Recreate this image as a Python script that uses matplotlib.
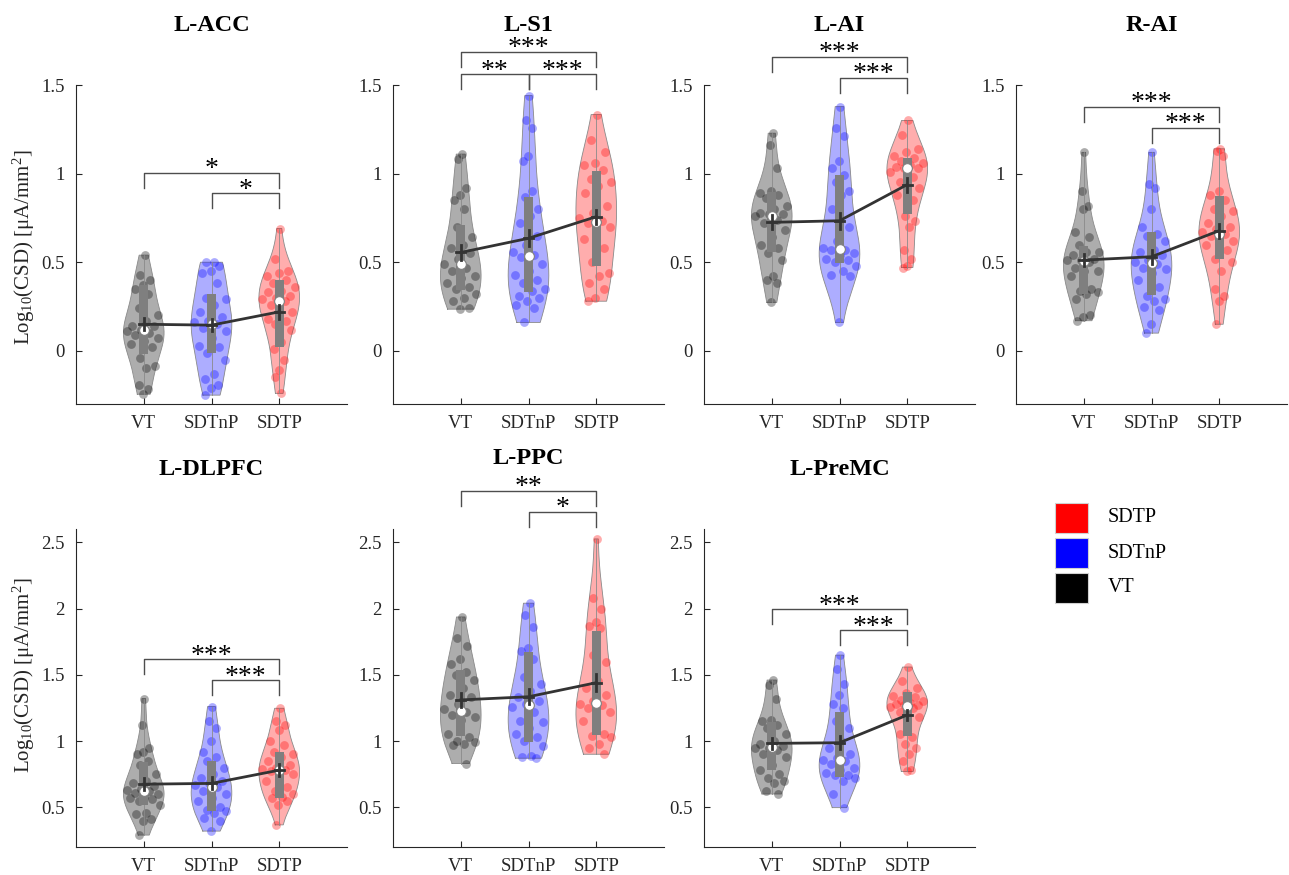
import numpy as np
import matplotlib.pyplot as plt
from matplotlib.patches import Rectangle

plt.rcParams['font.family'] = 'Liberation Serif'
plt.rcParams['mathtext.fontset'] = 'custom'
plt.rcParams['mathtext.rm'] = 'Liberation Serif'
plt.rcParams['mathtext.it'] = 'Liberation Serif:italic'

groups = ["VT", "SDTnP", "SDTP"]
colors = ["black", "blue", "red"]

# ---- individual subject values (log10 CSD) ----
lacc_vt = [0.54, 0.43, 0.40, 0.37, 0.35, 0.32, 0.24, 0.20, 0.17, 0.14, 0.14, 0.12, 0.11,
           0.10, 0.09, 0.075, 0.056, 0.04, 0.02, -0.04, -0.085, -0.095, -0.19, -0.215, -0.245]
lacc_sdtnp = [0.50, 0.50, 0.48, 0.45, 0.44, 0.38, 0.30, 0.29, 0.26, 0.22, 0.19, 0.17, 0.16,
              0.15, 0.13, 0.11, 0.07, 0.03, 0.02, -0.01, -0.05, -0.13, -0.16, -0.19, -0.21, -0.25]
lacc_sdtp = [0.69, 0.52, 0.45, 0.44, 0.42, 0.40, 0.38, 0.36, 0.34, 0.33, 0.31, 0.30, 0.29,
             0.28, 0.26, 0.22, 0.20, 0.18, 0.17, 0.15, 0.12, 0.05, 0.01, -0.05, -0.11, -0.15, -0.24]

ls1_vt = [1.11, 1.08, 0.92, 0.88, 0.85, 0.80, 0.70, 0.64, 0.60, 0.58, 0.55, 0.52, 0.49,
          0.47, 0.45, 0.42, 0.41, 0.38, 0.36, 0.35, 0.32, 0.30, 0.28, 0.24, 0.235]
ls1_sdtnp = [1.44, 1.30, 1.26, 1.10, 1.07, 0.90, 0.87, 0.80, 0.76, 0.72, 0.65, 0.60, 0.56, 0.54,
             0.53, 0.49, 0.45, 0.43, 0.40, 0.38, 0.35, 0.34, 0.31, 0.30, 0.28, 0.26, 0.24, 0.16]
ls1_sdtp = [1.333, 1.19, 1.12, 1.06, 1.05, 1.02, 0.97, 0.95, 0.93, 0.89, 0.82, 0.78, 0.75,
            0.73, 0.72, 0.70, 0.65, 0.63, 0.58, 0.50, 0.44, 0.42, 0.38, 0.35, 0.30, 0.28]

lai_vt = [1.228, 1.16, 1.03, 0.90, 0.89, 0.88, 0.86, 0.82, 0.80, 0.78, 0.77, 0.77, 0.76,
          0.74, 0.72, 0.68, 0.64, 0.60, 0.58, 0.55, 0.51, 0.42, 0.40, 0.38, 0.273]
lai_sdtnp = [1.378, 1.26, 1.21, 1.07, 1.03, 0.99, 0.95, 0.90, 0.88, 0.80, 0.70, 0.62, 0.58,
             0.57, 0.57, 0.55, 0.54, 0.52, 0.51, 0.50, 0.48, 0.45, 0.43, 0.42, 0.16]
lai_sdtp = [1.30, 1.22, 1.14, 1.12, 1.10, 1.09, 1.07, 1.06, 1.05, 1.04, 1.03, 1.03, 1.01,
            0.98, 0.95, 0.92, 0.90, 0.88, 0.85, 0.76, 0.73, 0.70, 0.57, 0.52, 0.48, 0.47]

rai_vt = [1.12, 0.90, 0.82, 0.80, 0.67, 0.64, 0.60, 0.56, 0.56, 0.54, 0.52, 0.51, 0.51,
          0.50, 0.47, 0.45, 0.45, 0.42, 0.35, 0.34, 0.33, 0.32, 0.29, 0.20, 0.19, 0.17]
rai_sdtnp = [1.12, 0.94, 0.92, 0.80, 0.70, 0.66, 0.65, 0.62, 0.57, 0.56, 0.54, 0.51, 0.50,
             0.49, 0.47, 0.46, 0.44, 0.40, 0.36, 0.31, 0.29, 0.28, 0.25, 0.23, 0.15, 0.10]
rai_sdtp = [1.14, 1.13, 1.10, 0.90, 0.88, 0.85, 0.80, 0.79, 0.76, 0.72, 0.70, 0.69, 0.67,
            0.66, 0.65, 0.62, 0.62, 0.60, 0.57, 0.52, 0.50, 0.45, 0.35, 0.31, 0.28, 0.15]

dlpfc_vt = [1.32, 1.12, 0.95, 0.92, 0.90, 0.85, 0.82, 0.75, 0.70, 0.68, 0.66, 0.64, 0.63,
            0.62, 0.61, 0.60, 0.58, 0.57, 0.56, 0.55, 0.52, 0.46, 0.45, 0.41, 0.40, 0.29]
dlpfc_sdtnp = [1.26, 1.15, 1.10, 1.00, 0.92, 0.88, 0.85, 0.80, 0.75, 0.72, 0.70, 0.68, 0.67,
               0.65, 0.62, 0.60, 0.57, 0.55, 0.50, 0.48, 0.47, 0.46, 0.42, 0.40, 0.32]
dlpfc_sdtp = [1.247, 1.15, 1.12, 1.08, 1.00, 0.97, 0.92, 0.90, 0.88, 0.85, 0.82, 0.80, 0.79,
              0.78, 0.77, 0.75, 0.72, 0.70, 0.65, 0.62, 0.60, 0.58, 0.57, 0.55, 0.52, 0.367]

ppc_vt = [1.936, 1.78, 1.72, 1.62, 1.58, 1.52, 1.50, 1.46, 1.40, 1.35, 1.33, 1.28,
          1.24, 1.22, 1.20, 1.18, 1.16, 1.05, 1.03, 1.00, 0.99, 0.98, 0.97, 0.83]
ppc_sdtnp = [2.04, 1.95, 1.86, 1.70, 1.68, 1.62, 1.48, 1.43, 1.38, 1.33, 1.30, 1.28,
             1.26, 1.22, 1.15, 1.14, 1.10, 1.05, 1.03, 1.00, 0.96, 0.89, 0.88, 0.87]
ppc_sdtp = [2.525, 2.08, 2.00, 1.90, 1.87, 1.85, 1.65, 1.60, 1.45, 1.40, 1.35, 1.30,
            1.28, 1.27, 1.25, 1.22, 1.18, 1.15, 1.05, 1.04, 1.03, 0.98, 0.95, 0.90]

premc_vt = [1.46, 1.42, 1.32, 1.16, 1.15, 1.12, 1.10, 1.05, 1.00, 0.98, 0.96, 0.95,
            0.95, 0.93, 0.90, 0.88, 0.82, 0.78, 0.75, 0.72, 0.70, 0.68, 0.62, 0.60]
premc_sdtnp = [1.648, 1.54, 1.43, 1.35, 1.28, 1.25, 1.15, 1.10, 1.00, 0.95, 0.90, 0.87,
               0.86, 0.85, 0.83, 0.80, 0.78, 0.76, 0.74, 0.74, 0.72, 0.70, 0.60, 0.497]
premc_sdtp = [1.558, 1.45, 1.40, 1.36, 1.34, 1.33, 1.31, 1.30, 1.29, 1.28, 1.27, 1.27, 1.26,
              1.25, 1.22, 1.18, 1.12, 1.05, 1.03, 0.98, 0.95, 0.90, 0.85, 0.78, 0.77]

# ---- box (q1, median, q3), mean and sem per group, as drawn ----
lacc_box = [(-0.02, 0.12, 0.37), (-0.01, 0.15, 0.32), (0.02, 0.28, 0.40)]
lacc_mean = [0.15, 0.145, 0.22]
lacc_sem = [0.035, 0.035, 0.04]
ls1_box = [(0.343, 0.49, 0.71), (0.33, 0.537, 0.866), (0.48, 0.725, 1.017)]
ls1_mean = [0.555, 0.635, 0.757]
ls1_sem = [0.04, 0.045, 0.04]
lai_box = [(0.556, 0.763, 0.898), (0.493, 0.574, 0.992), (0.772, 1.032, 1.089)]
lai_mean = [0.725, 0.734, 0.938]
lai_sem = [0.04, 0.045, 0.04]
rai_box = [(0.32, 0.508, 0.593), (0.316, 0.495, 0.668), (0.52, 0.66, 0.876)]
rai_mean = [0.512, 0.531, 0.678]
rai_sem = [0.035, 0.04, 0.04]
dlpfc_box = [(0.518, 0.623, 0.84), (0.472, 0.656, 0.85), (0.573, 0.78, 0.92)]
dlpfc_mean = [0.674, 0.68, 0.78]
dlpfc_sem = [0.045, 0.045, 0.045]
ppc_box = [(1.04, 1.226, 1.534), (0.995, 1.27, 1.67), (1.045, 1.284, 1.83)]
ppc_mean = [1.31, 1.334, 1.44]
ppc_sem = [0.05, 0.055, 0.065]
premc_box = [(0.78, 0.957, 1.14), (0.73, 0.857, 1.22), (1.04, 1.266, 1.367)]
premc_mean = [0.982, 0.987, 1.196]
premc_sem = [0.04, 0.05, 0.04]

# significance brackets: (group a, group b, height, stars)
lacc_sig = [(0, 2, 1.006, "*"), (1, 2, 0.89, "*")]
ls1_sig = [(0, 2, 1.687, "***"), (0, 1, 1.56, "**"), (1, 2, 1.56, "***")]
lai_sig = [(0, 2, 1.66, "***"), (1, 2, 1.54, "***")]
rai_sig = [(0, 2, 1.376, "***"), (1, 2, 1.26, "***")]
dlpfc_sig = [(0, 2, 1.616, "***"), (1, 2, 1.458, "***")]
ppc_sig = [(0, 2, 2.89, "**"), (1, 2, 2.73, "*")]
premc_sig = [(0, 2, 1.993, "***"), (1, 2, 1.835, "***")]

panels = [
    ("L-ACC", [lacc_vt, lacc_sdtnp, lacc_sdtp], lacc_box, lacc_mean, lacc_sem, lacc_sig, 0, 0),
    ("L-S1", [ls1_vt, ls1_sdtnp, ls1_sdtp], ls1_box, ls1_mean, ls1_sem, ls1_sig, 0, 1),
    ("L-AI", [lai_vt, lai_sdtnp, lai_sdtp], lai_box, lai_mean, lai_sem, lai_sig, 0, 2),
    ("R-AI", [rai_vt, rai_sdtnp, rai_sdtp], rai_box, rai_mean, rai_sem, rai_sig, 0, 3),
    ("L-DLPFC", [dlpfc_vt, dlpfc_sdtnp, dlpfc_sdtp], dlpfc_box, dlpfc_mean, dlpfc_sem, dlpfc_sig, 1, 0),
    ("L-PPC", [ppc_vt, ppc_sdtnp, ppc_sdtp], ppc_box, ppc_mean, ppc_sem, ppc_sig, 1, 1),
    ("L-PreMC", [premc_vt, premc_sdtnp, premc_sdtp], premc_box, premc_mean, premc_sem, premc_sig, 1, 2),
]

row_ylim = [(-0.3, 1.5), (0.2, 2.6)]
row_ticks = [[0, 0.5, 1, 1.5], [0.5, 1, 1.5, 2, 2.5]]
row_top_bottom = [(85, 404), (529, 847)]
col_left = [76, 393, 704, 1016]
ax_w = 271
W, H = 1289, 875
axis_col = "#262626"


def kde(vals, pts):
    v = np.asarray(vals)
    bw = 1.06 * v.std(ddof=1) * len(v) ** -0.2
    return np.exp(-0.5 * ((np.asarray(pts)[:, None] - v[None, :]) / bw) ** 2).sum(axis=1)


fig = plt.figure(figsize=(W / 100, H / 100), dpi=100)

for name, data, box, means, sems, sig, row, col in panels:
    top, bot = row_top_bottom[row]
    ax = fig.add_axes([col_left[col] / W, 1 - bot / H, ax_w / W, (bot - top) / H])
    ylo, yhi = row_ylim[row]

    for i, vals in enumerate(data):
        pos = i + 1
        c = colors[i]
        grid = np.linspace(min(vals), max(vals), 200)
        d = kde(vals, grid)
        dmax = d.max()
        half = d / dmax * 0.3
        ax.fill(np.r_[pos - half, (pos + half)[::-1]], np.r_[grid, grid[::-1]],
                facecolor=c, alpha=0.32, edgecolor="none", zorder=1)
        ax.plot(np.r_[pos - half, (pos + half)[::-1], pos - half[0]],
                np.r_[grid, grid[::-1], grid[0]], color="#8a8a8a", lw=0.6, zorder=1.5)
        # jittered points, spread by density
        dens = kde(vals, vals) / dmax * 0.3
        k = np.arange(len(vals))
        frac = ((k + 1) * 0.618034) % 1 * 2 - 1
        ax.scatter(pos + frac * dens * 0.9, vals, s=40, color=c, alpha=0.33,
                   linewidths=0, zorder=2)
        ax.plot([pos, pos], [min(vals), max(vals)], color="#8a8a8a", lw=0.6, zorder=2.5)
        q1, med, q3 = box[i]
        ax.add_patch(Rectangle((pos - 0.065, q1), 0.13, q3 - q1, facecolor="#7f7f7f",
                               edgecolor="none", zorder=3))
        ax.plot(pos, med, "o", mfc="white", mec="#7f7f7f", ms=7, mew=0.8, zorder=4)

    xs = np.arange(1, 4)
    ax.plot(xs, means, color="#333333", lw=2, zorder=5)
    for x, m, s in zip(xs, means, sems):
        ax.plot([x, x], [m - s, m + s], color="#333333", lw=2, zorder=5)
        ax.plot([x - 0.07, x + 0.07], [m, m], color="#333333", lw=2, zorder=5)

    leg = 0.047 * (yhi - ylo)
    for a, b, h, stars in sig:
        ax.plot([a + 1, a + 1, b + 1, b + 1], [h - leg, h, h, h - leg],
                color="#4d4d4d", lw=1, clip_on=False, zorder=6)
        ax.annotate(stars, xy=((a + b) / 2 + 1, h), xytext=(0, -2.5),
                    textcoords="offset points", ha="center", va="baseline",
                    fontsize=20, annotation_clip=False, clip_on=False)

    ax.set_xlim(0, 4)
    ax.set_ylim(ylo, yhi)
    ax.set_xticks(xs)
    ax.set_xticklabels(groups)
    ax.set_yticks(row_ticks[row])
    ax.set_yticklabels([f"{t:g}" for t in row_ticks[row]])
    for sp in ["top", "right"]:
        ax.spines[sp].set_visible(False)
    for sp in ["left", "bottom"]:
        ax.spines[sp].set_color(axis_col)
        ax.spines[sp].set_linewidth(0.8)
    ax.tick_params(direction="in", length=4, width=0.8, color=axis_col,
                   labelcolor=axis_col, labelsize=13.5, pad=8)
    ax.set_title(name, fontsize=17.5, fontweight="bold", pad=47 if name == "L-PPC" else 39)
    if col == 0:
        ax.set_ylabel(r"Log$_{10}$(CSD) [$\mathrm{\mu}$A/mm$^{2}$]", fontsize=15,
                      color=axis_col)
        ax.yaxis.set_label_coords(-0.145, 0.49 if row == 0 else 0.54)

# legend
legend_rows = [("SDTP", "red", 503), ("SDTnP", "blue", 538), ("VT", "black", 573)]
for label, c, y in legend_rows:
    fig.add_artist(Rectangle((1055 / W, 1 - (y + 30) / H), 33 / W, 30 / H,
                             transform=fig.transFigure, facecolor=c,
                             edgecolor="#d0d0d0", lw=0.8))
    fig.text(1108 / W, 1 - (y + 15) / H, label, va="center", ha="left", fontsize=14.5)

fig.savefig("out.png", dpi=100)
